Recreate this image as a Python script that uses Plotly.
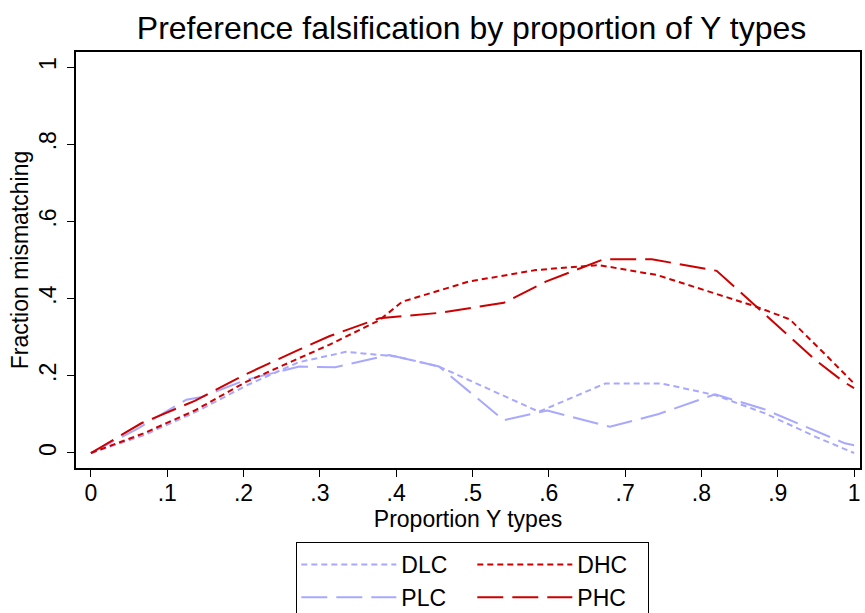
import plotly.graph_objects as go

# ---- data ----
x_dlc = [0, 0.068, 0.136, 0.204, 0.272, 0.334, 0.40, 0.456, 0.587, 0.674, 0.748, 0.818, 0.883, 0.952, 1.0]
dlc   = [0, 0.045, 0.105, 0.175, 0.235, 0.262, 0.25, 0.224, 0.107, 0.18, 0.18, 0.15, 0.103, 0.04, 0.0]

x_plc = [0, 0.06, 0.125, 0.145, 0.204, 0.273, 0.32, 0.391, 0.456, 0.541, 0.598, 0.68, 0.744, 0.818, 0.883, 0.988, 1.0]
plc   = [0, 0.062, 0.138, 0.145, 0.19, 0.224, 0.222, 0.254, 0.224, 0.085, 0.11, 0.068, 0.101, 0.152, 0.113, 0.025, 0.02]

x_dhc = [0, 0.068, 0.136, 0.204, 0.272, 0.312, 0.378, 0.408, 0.495, 0.583, 0.665, 0.742, 0.872, 0.916, 0.97, 1.0]
dhc   = [0, 0.05, 0.11, 0.185, 0.245, 0.28, 0.344, 0.392, 0.444, 0.474, 0.487, 0.461, 0.379, 0.346, 0.24, 0.18]

x_phc = [0, 0.066, 0.136, 0.204, 0.272, 0.313, 0.378, 0.456, 0.541, 0.596, 0.672, 0.735, 0.82, 0.95, 0.986, 1.0]
phc   = [0, 0.077, 0.135, 0.205, 0.267, 0.303, 0.349, 0.363, 0.389, 0.444, 0.502, 0.502, 0.472, 0.24, 0.185, 0.168]

x_tickvals = [0, 0.1, 0.2, 0.3, 0.4, 0.5, 0.6, 0.7, 0.8, 0.9, 1.0]
x_ticktext = ["0", ".1", ".2", ".3", ".4", ".5", ".6", ".7", ".8", ".9", "1"]
y_tickvals = [0, 0.2, 0.4, 0.6, 0.8, 1.0]
y_ticktext = ["0", ".2", ".4", ".6", ".8", "1"]

LAV = "#A8A8FF"
RED = "#CC0000"
SHORT = "6px,4px"
LONG = "26px,9px"
FONT = "Liberation Sans, Arial, sans-serif"

fig = go.Figure()
fig.add_trace(go.Scatter(x=x_dlc, y=dlc, mode="lines", name="DLC", legendgroup="L",
                         line=dict(color=LAV, width=2, dash=SHORT)))
fig.add_trace(go.Scatter(x=x_plc, y=plc, mode="lines", name="PLC", legendgroup="L",
                         line=dict(color=LAV, width=2, dash=LONG)))
fig.add_trace(go.Scatter(x=x_dhc, y=dhc, mode="lines", name="DHC", legendgroup="H",
                         line=dict(color=RED, width=2, dash=SHORT)))
fig.add_trace(go.Scatter(x=x_phc, y=phc, mode="lines", name="PHC", legendgroup="H",
                         line=dict(color=RED, width=2, dash=LONG)))

axis_common = dict(showgrid=False, zeroline=False, showline=True, mirror=True,
                   linecolor="black", linewidth=1.5, ticks="outside", ticklen=7,
                   tickcolor="black", tickwidth=1.3,
                   tickfont=dict(family=FONT, size=23, color="black"))

fig.update_layout(
    width=865, height=613, autosize=False,
    margin=dict(l=76, r=3, t=52, b=145),
    paper_bgcolor="white", plot_bgcolor="white",
    font=dict(family=FONT, color="black"),
    title=dict(text="Preference falsification by proportion of Y types",
               font=dict(family=FONT, size=32, color="black"),
               x=0.5045, xref="paper", xanchor="center",
               y=1 - 28 / 613, yref="container", yanchor="middle"),
    xaxis=dict(range=[-0.0196, 1.0078], tickvals=x_tickvals, ticktext=x_ticktext,
               ticklabelstandoff=-3,
               title=dict(text="Proportion Y types", font=dict(family=FONT, size=23, color="black"),
                          standoff=0),
               **axis_common),
    yaxis=dict(range=[-0.0389, 1.0389], tickvals=y_tickvals, ticktext=y_ticktext,
               tickangle=-90, ticklabelstandoff=2,
               title=dict(text="Fraction mismatching", font=dict(family=FONT, size=23, color="black"),
                          standoff=0),
               **axis_common),
    legend=dict(orientation="h", traceorder="grouped", x=0.281, xref="paper",
                y=1 - 542 / 613, yref="container",
                xanchor="left", yanchor="top", bordercolor="black", borderwidth=1,
                bgcolor="white", font=dict(family=FONT, size=23, color="black"),
                itemwidth=95, entrywidth=66, tracegroupgap=0),
    showlegend=True,
)

fig.write_html("out.html", config={"displayModeBar": False},
               post_script="document.body.style.margin='0';document.body.style.overflow='hidden';")
